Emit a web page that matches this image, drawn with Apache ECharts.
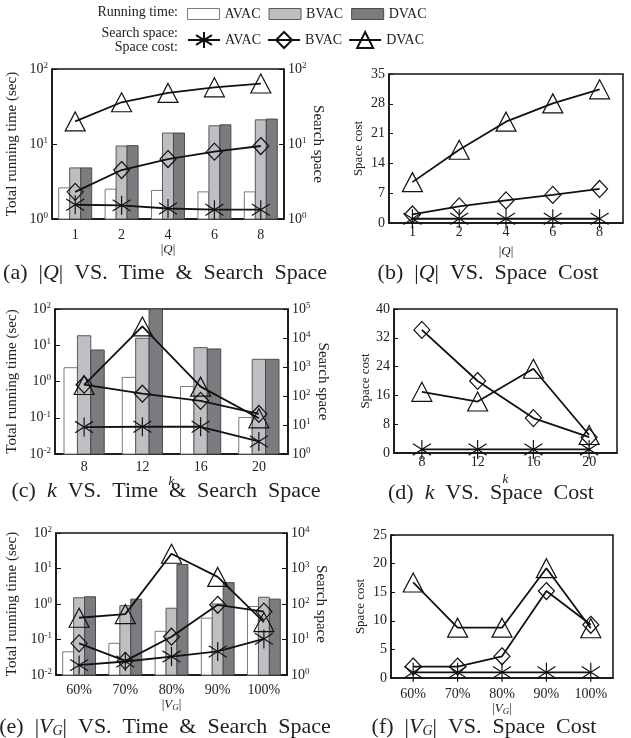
<!DOCTYPE html>
<html>
<head>
<meta charset="utf-8">
<script src="https://cdn.jsdelivr.net/npm/echarts@6/dist/echarts.min.js"></script>
<style>
html, body { margin: 0; padding: 0; background: #fff; }
#main { width: 631px; height: 738px; }
</style>
</head>
<body>
<div id="main"></div>
<script>
// categories
const qCats = ["1", "2", "4", "6", "8"];
const kCats = ["8", "12", "16", "20"];
const vgCats = ["60%", "70%", "80%", "90%", "100%"];

// (a) |Q| - running time (sec) and search space
const timeQ_AVAC = [2.6, 2.5, 2.4, 2.3, 2.3];
const timeQ_BVAC = [4.8, 9.4, 14, 17.5, 21];
const timeQ_DVAC = [4.8, 9.5, 14, 18, 21.5];
const searchQ_AVAC = [1.55, 1.52, 1.38, 1.33, 1.33];
const searchQ_BVAC = [2.3, 4.5, 6.3, 7.9, 9.4];
const searchQ_DVAC = [20, 36, 48, 57, 64];

// (b) |Q| - space cost
const spaceQ_AVAC = [1, 1, 1, 1, 1];
const spaceQ_BVAC = [2, 3.9, 5.3, 6.6, 8];
const spaceQ_DVAC = [9.6, 17.2, 23.8, 28.1, 31.4];

// (c) k - running time and search space
const timeK_AVAC = [2.4, 1.3, 0.73, 0.102];
const timeK_BVAC = [18.3, 15.6, 8.6, 4.1];
const timeK_DVAC = [7.4, 100, 7.9, 4.1];
const searchK_AVAC = [8.5, 8.7, 8.7, 2.7];
const searchK_BVAC = [245, 120, 68, 24];
const searchK_DVAC = [240, 25000, 210, 17];

// (d) k - space cost
const spaceK_AVAC = [1, 1, 1, 1];
const spaceK_BVAC = [34.2, 20, 9.7, 4.4];
const spaceK_DVAC = [17, 14.3, 23.4, 5];

// (e) |V_G| - running time and search space
const timeV_AVAC = [0.045, 0.078, 0.17, 0.4, 0.85];
const timeV_BVAC = [1.5, 0.9, 0.76, 1.0, 1.55];
const timeV_DVAC = [1.6, 1.37, 13, 4.0, 1.37];
const searchV_AVAC = [1.9, 2.4, 3.3, 4.6, 10.4];
const searchV_BVAC = [7.8, 2.5, 12, 95, 61];
const searchV_DVAC = [41, 52, 2600, 580, 31];

// (f) |V_G| - space cost
const spaceV_AVAC = [1, 1, 1, 1, 1];
const spaceV_BVAC = [2, 2, 3.8, 15.2, 9.3];
const spaceV_DVAC = [16.7, 8.8, 8.8, 19.2, 8.7];

const FONT = "Liberation Serif, 'Times New Roman', serif";
const TXT = "#222";
const STAR = "path://M10,0L10,20M0,4L20,16M0,16L20,4";

const barStyle = {
  AVAC: { color: "#ffffff", borderColor: "#7a7a7a", borderWidth: 1 },
  BVAC: { color: "#bebec3", borderColor: "#5a5a5a", borderWidth: 1 },
  DVAC: { color: "#7b7b80", borderColor: "#4a4a4a", borderWidth: 1 },
};
const barSlot = { AVAC: 0, BVAC: 1, DVAC: 2 };
const lineSymbol = {
  AVAC: { symbol: STAR, size: [18, 19] },
  BVAC: { symbol: "diamond", size: [16, 17] },
  DVAC: { symbol: "triangle", size: [20, 19] },
};

function logLabel(v) {
  const e = Math.round(Math.log10(v));
  return "{b|10}{s|" + e + "}";
}
const logRich = {
  b: { fontSize: 14, fontFamily: FONT, color: TXT, lineHeight: 16 },
  s: { fontSize: 9, fontFamily: FONT, color: TXT, verticalAlign: "top", lineHeight: 9 },
};
const nameRich = {
  i: { fontStyle: "italic", fontFamily: FONT, fontSize: 13, color: TXT },
  sub: { fontStyle: "italic", fontFamily: FONT, fontSize: 9, color: TXT, verticalAlign: "bottom", padding: [6, 0, 0, 0] },
};

function xAxis(gridIndex, data, labelMargin, nameText, nameGap) {
  return {
    type: "category", gridIndex: gridIndex, data: data,
    axisLine: { lineStyle: { color: "#111", width: 1.5 } },
    axisTick: { show: false },
    axisLabel: { margin: labelMargin, fontSize: 14, fontFamily: FONT, color: TXT },
    name: nameText, nameLocation: "middle", nameGap: nameGap,
    nameTextStyle: { fontSize: 13, fontFamily: FONT, color: TXT, rich: nameRich },
  };
}
function logAxis(gridIndex, min, max, pos, nameText, nameGap) {
  return {
    type: "log", logBase: 10, gridIndex: gridIndex, min: min, max: max, position: pos,
    axisLine: { show: true, lineStyle: { color: "#111", width: 1.5 } },
    axisTick: { show: true, inside: true, length: 5, lineStyle: { color: "#111" } },
    minorTick: { show: false },
    splitLine: { show: false },
    axisLabel: { margin: 4, formatter: logLabel, rich: logRich },
    name: nameText, nameLocation: "middle", nameGap: nameGap,
    nameRotate: pos === "left" ? 90 : -90,
    nameTextStyle: { fontSize: 15, fontFamily: FONT, color: TXT },
  };
}
function linAxis(gridIndex, max, interval, nameGap) {
  return {
    type: "value", gridIndex: gridIndex, min: 0, max: max, interval: interval,
    axisLine: { show: true, lineStyle: { color: "#111", width: 1.5 } },
    axisTick: { show: true, inside: true, length: 4, lineStyle: { color: "#111" } },
    splitLine: { show: false },
    axisLabel: { margin: 4, fontSize: 14, fontFamily: FONT, color: TXT },
    name: "Space cost", nameLocation: "middle", nameGap: nameGap, nameRotate: 90,
    nameTextStyle: { fontSize: 13, fontFamily: FONT, color: TXT },
  };
}

// grouped bars drawn from the log axis' lower bound (base) up to the value
function bars(xi, yi, name, data, gap, base) {
  return {
    type: "custom", name: name, xAxisIndex: xi, yAxisIndex: yi,
    data: data.map(function (v, i) { return [i, v]; }),
    encode: { x: 0, y: 1 },
    itemStyle: barStyle[name],
    renderItem: function (params, api) {
      const idx = api.value(0);
      const top = api.coord([idx, api.value(1)]);
      const bottom = api.coord([idx, base]);
      const band = api.size([1, 0])[0];
      const w = band * (1 - gap) / 3;
      const x = top[0] - 1.5 * w + barSlot[name] * w;
      return {
        type: "rect",
        shape: { x: x, y: top[1], width: w, height: bottom[1] - top[1] },
        style: api.style(),
      };
    },
  };
}
function line(xi, yi, name, data) {
  return {
    type: "line", name: name + " ", xAxisIndex: xi, yAxisIndex: yi, data: data,
    symbol: lineSymbol[name].symbol, symbolSize: lineSymbol[name].size,
    showAllSymbol: true, clip: false, z: 5,
    lineStyle: { color: "#111", width: 1.8 },
    itemStyle: { color: "rgba(0,0,0,0)", borderColor: "#111", borderWidth: 1.2 },
  };
}
function caption(text, cx, top) {
  return {
    text: text, left: cx, top: top, textAlign: "center", padding: 0,
    textStyle: {
      fontSize: 22, fontWeight: "normal", fontFamily: FONT, color: TXT,
      rich: { i: { fontSize: 22, fontStyle: "italic", fontFamily: FONT, color: TXT },
              sub: { fontSize: 14, fontStyle: "italic", fontFamily: FONT, color: TXT, verticalAlign: "bottom", padding: [8, 0, 0, 0] } },
    },
  };
}

const myChart = echarts.init(document.getElementById("main"), null, { renderer: "canvas" });
const gridBase = { show: true, borderColor: "#111", borderWidth: 1.5, containLabel: false, outerBoundsMode: "none" };

const option = {
  backgroundColor: "#fff",
  animation: false,
  title: [
    { text: "Running time:", left: 178, top: 5, textAlign: "right", padding: 0,
      textStyle: { fontSize: 14, fontWeight: "normal", fontFamily: FONT, color: TXT } },
    { text: "Search space:\nSpace cost:", left: 178, top: 26, textAlign: "right", padding: 0,
      textStyle: { fontSize: 14, lineHeight: 14, fontWeight: "normal", fontFamily: FONT, color: TXT } },
    caption("(a)  |{i|Q}|  VS.  Time  &  Search  Space", 165, 262),
    caption("(b)  |{i|Q}|  VS.  Space  Cost", 488, 262),
    caption("(c)  {i|k}  VS.  Time  &  Search  Space", 166, 480),
    caption("(d)  {i|k}  VS.  Space  Cost", 491, 482),
    caption("(e)  |{i|V}{sub|G}|  VS.  Time  &  Search  Space", 165, 716),
    caption("(f)  |{i|V}{sub|G}|  VS.  Space  Cost", 484, 716),
  ],
  legend: [
    { data: ["AVAC", "BVAC", "DVAC"], left: 187, top: 7, icon: "rect", padding: 0,
      itemWidth: 32, itemHeight: 11, itemGap: 8, selectedMode: false,
      itemStyle: { borderWidth: 1 },
      textStyle: { fontSize: 14, fontFamily: FONT, color: TXT } },
    { data: ["AVAC ", "BVAC ", "DVAC "], left: 187, top: 31, padding: 0,
      itemWidth: 32, itemHeight: 20, itemGap: 6, selectedMode: false,
      formatter: function (n) { return n.trim(); },
      textStyle: { fontSize: 14, fontFamily: FONT, color: TXT } },
  ],
  grid: [
    Object.assign({ left: 52, top: 69, width: 232, height: 150 }, gridBase),
    Object.assign({ left: 389, top: 74, width: 234, height: 149 }, gridBase),
    Object.assign({ left: 55, top: 309, width: 233, height: 145 }, gridBase),
    Object.assign({ left: 394, top: 309, width: 223, height: 144 }, gridBase),
    Object.assign({ left: 56, top: 533, width: 231, height: 142 }, gridBase),
    Object.assign({ left: 391, top: 535, width: 222, height: 143 }, gridBase),
  ],
  xAxis: [
    xAxis(0, qCats, 9, "|{i|Q}|", 24),
    xAxis(1, qCats, 2, "|{i|Q}|", 22),
    xAxis(2, kCats, 6, "{i|k}", 21),
    xAxis(3, kCats, 2, "{i|k}", 20),
    xAxis(4, vgCats, 8, "|{i|V}{sub|G}|", 20),
    xAxis(5, vgCats, 9, "|{i|V}{sub|G}|", 18),
  ],
  yAxis: [
    logAxis(0, 1, 100, "left", "Total running time (sec)", 32),
    logAxis(0, 1, 100, "right", "Search space", 24),
    linAxis(1, 35, 7, 24),
    logAxis(2, 0.01, 100, "left", "Total running time (sec)", 35),
    logAxis(2, 1, 100000, "right", "Search space", 27),
    linAxis(3, 40, 8, 22),
    logAxis(4, 0.01, 100, "left", "Total running time (sec)", 36),
    logAxis(4, 1, 10000, "right", "Search space", 25),
    linAxis(5, 25, 5, 24),
  ],
  series: [
    bars(0, 0, "AVAC", timeQ_AVAC, 0.29, 1),
    bars(0, 0, "BVAC", timeQ_BVAC, 0.29, 1),
    bars(0, 0, "DVAC", timeQ_DVAC, 0.29, 1),
    line(0, 1, "AVAC", searchQ_AVAC),
    line(0, 1, "BVAC", searchQ_BVAC),
    line(0, 1, "DVAC", searchQ_DVAC),

    line(1, 2, "AVAC", spaceQ_AVAC),
    line(1, 2, "BVAC", spaceQ_BVAC),
    line(1, 2, "DVAC", spaceQ_DVAC),

    bars(2, 3, "AVAC", timeK_AVAC, 0.31, 0.01),
    bars(2, 3, "BVAC", timeK_BVAC, 0.31, 0.01),
    bars(2, 3, "DVAC", timeK_DVAC, 0.31, 0.01),
    line(2, 4, "AVAC", searchK_AVAC),
    line(2, 4, "BVAC", searchK_BVAC),
    line(2, 4, "DVAC", searchK_DVAC),

    line(3, 5, "AVAC", spaceK_AVAC),
    line(3, 5, "BVAC", spaceK_BVAC),
    line(3, 5, "DVAC", spaceK_DVAC),

    bars(4, 6, "AVAC", timeV_AVAC, 0.29, 0.01),
    bars(4, 6, "BVAC", timeV_BVAC, 0.29, 0.01),
    bars(4, 6, "DVAC", timeV_DVAC, 0.29, 0.01),
    line(4, 7, "AVAC", searchV_AVAC),
    line(4, 7, "BVAC", searchV_BVAC),
    line(4, 7, "DVAC", searchV_DVAC),

    line(5, 8, "AVAC", spaceV_AVAC),
    line(5, 8, "BVAC", spaceV_BVAC),
    line(5, 8, "DVAC", spaceV_DVAC),
  ],
};
myChart.setOption(option, true);
</script>
</body>
</html>
